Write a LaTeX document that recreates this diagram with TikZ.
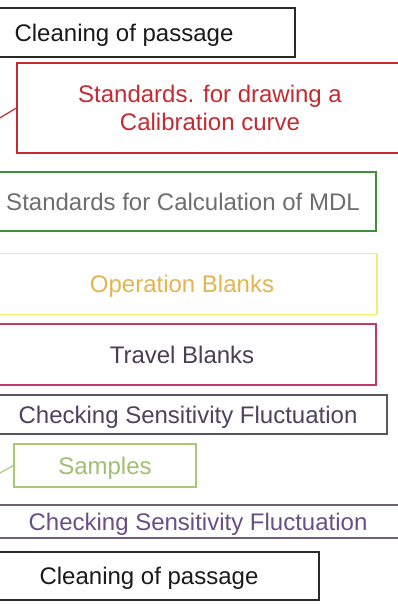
\documentclass[tikz,border=0pt]{standalone}
\usepackage{fontspec}
\setmainfont{Liberation Sans}
\definecolor{cBlackBd}{HTML}{2A2A2A}
\definecolor{cBlackTx}{HTML}{1A1A1A}
\definecolor{cRed}{HTML}{C42A30}
\definecolor{cGreenBd}{HTML}{3E8E3E}
\definecolor{cGreyTx}{HTML}{6E6E6E}
\definecolor{cYellowBd}{HTML}{F4EC6A}
\definecolor{cYellowTx}{HTML}{E3B550}
\definecolor{cCrimsonBd}{HTML}{C2386A}
\definecolor{cTravelTx}{HTML}{4A3D55}
\definecolor{cChkBd}{HTML}{5A5560}
\definecolor{cChkTx}{HTML}{4E4260}
\definecolor{cSampBd}{HTML}{A8C878}
\definecolor{cSampTx}{HTML}{9EC070}
\definecolor{cChkTwoBd}{HTML}{6E6078}
\definecolor{cChkTwoTx}{HTML}{6A4F85}
\tikzset{
  stagebox/.style={draw, line width=1.2pt, inner sep=0pt, minimum width=#1,
    font=\fontsize{24}{28.5}\selectfont, text height=17pt, text depth=0pt},
}
\begin{document}
\begin{tikzpicture}[x=1pt,y=-1pt]
\useasboundingbox (0,0) rectangle (398,606);
\fill[white] (0,0) rectangle (398,606);
\clip (0,0) rectangle (398,606);
% Cleaning of passage (top)
\node[stagebox=342pt, minimum height=49pt, color=cBlackBd, text=cBlackTx] (clean1) at (124,32.5) {Cleaning of passage};
% Standards for calibration curve
\node[draw, line width=1.2pt, inner sep=0pt, minimum width=403pt, minimum height=90pt, color=cRed] (calibbox) at (218.5,108) {};
\node[inner sep=0pt, text=cRed, align=center, font=\fontsize{24}{28.5}\selectfont] (calib) at (210,108)
      {Standards. for drawing a\\Calibration curve};
\coordinate (calibend) at (-17,128);
\draw[line width=1.2pt, cRed] (calibbox.west) -- (calibend);
% MDL
\node[stagebox=386pt, minimum height=59pt, color=cGreenBd, text=cGreyTx] (mdl) at (183,201.5) {Standards for Calculation of MDL};
% Operation blanks
\node[stagebox=390pt, minimum height=61pt, color=cYellowBd, text=cYellowTx] (opb) at (182,284) {Operation Blanks};
% Travel blanks
\node[stagebox=388pt, minimum height=61pt, color=cCrimsonBd, text=cTravelTx] (trb) at (182,354.5) {Travel Blanks};
% Checking sensitivity 1
\node[stagebox=398pt, minimum height=39pt, color=cChkBd, text=cChkTx] (chk1) at (188,414.5) {Checking Sensitivity Fluctuation};
% Samples
\node[stagebox=182pt, minimum height=43pt, color=cSampBd, text=cSampTx] (samp) at (105,465.5) {Samples};
\coordinate (sampend) at (-14,480.5);
\draw[line width=1.2pt, cSampBd] (samp.west) -- (sampend);
% Checking sensitivity 2
\node[stagebox=416pt, minimum height=33pt, color=cChkTwoBd, text=cChkTwoTx] (chk2) at (198,521.5) {Checking Sensitivity Fluctuation};
% Cleaning of passage (bottom)
\node[stagebox=340pt, minimum height=48pt, color=cBlackBd, text=cBlackTx] (clean2) at (149,576) {Cleaning of passage};
\end{tikzpicture}
\end{document}
